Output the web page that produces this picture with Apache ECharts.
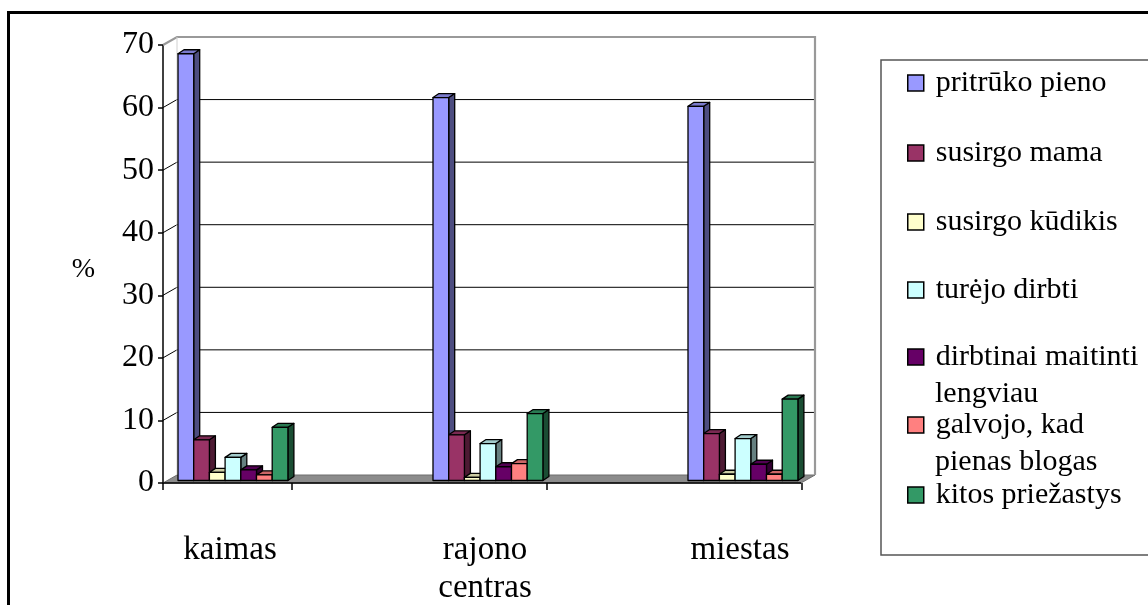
<!DOCTYPE html>
<html>
<head>
<meta charset="utf-8">
<script src="https://cdn.jsdelivr.net/npm/echarts@6/dist/echarts.min.js"></script>
<style>
  html, body { margin: 0; padding: 0; background: #fff; }
  #chart { width: 1148px; height: 605px; }
</style>
</head>
<body>
<div id="chart"></div>
<script>
// Categories and per-reason percentages
const categories = ['kaimas', 'rajono\ncentras', 'miestas'];
const yTicks = [0, 10, 20, 30, 40, 50, 60, 70];

const seriesNames = [
  'pritrūko pieno',
  'susirgo mama',
  'susirgo kūdikis',
  'turėjo dirbti',
  'dirbtinai maitinti\nlengviau',
  'galvojo, kad\npienas blogas',
  'kitos priežastys'
];

const pritrukoPieno = [68.2, 61.2, 59.8];
const susirgoMama = [6.5, 7.3, 7.5];
const susirgoKudikis = [1.3, 0.5, 1.0];
const turejoDirbti = [3.7, 5.9, 6.7];
const dirbtinaiMaitinti = [1.7, 2.2, 2.6];
const galvojoPienas = [0.9, 2.7, 1.0];
const kitosPriezastys = [8.5, 10.7, 13.0];

const seriesValues = [
  pritrukoPieno, susirgoMama, susirgoKudikis, turejoDirbti,
  dirbtinaiMaitinti, galvojoPienas, kitosPriezastys
];

const seriesColors = ['#9999FF', '#993366', '#FFFFCC', '#CCFFFF', '#660066', '#FF8080', '#339966'];

// Legend rows (vertical centre of each marker) and wrapped-line spacing
const legendRowY = [83, 153, 222, 290, 357, 425, 495];
const LEGEND_LEFT = 902;
const LEGEND_PAD = 5;
const LEGEND_TEXT_X = LEGEND_LEFT + LEGEND_PAD + 16 + 5 + 7;
const LEGEND_LINE = 37;

const SERIF = '"Liberation Serif", "Times New Roman", serif';

// 3D look of the plot area
const DEPTH_DX = 14, DEPTH_DY = 8;          // floor / wall depth
const BAR_DX = 6, BAR_DY = 4;               // column depth
const BAR_LIFT = 2.5;                       // columns stand slightly behind the front edge
const BAR_FRAC = 15.7 / 255;                // column width as a share of the category band
const CLUSTER_START = -52 / 255;            // cluster left edge relative to band centre
const TICK_SHIFT = 62 / 255;                // category tick relative to band centre
const FRONT_LEFT_INSET = 60.5;
const FRONT_RIGHT_INSET = 66.5;

function shade(hex, k) {
  const n = parseInt(hex.slice(1), 16);
  const r = Math.round(((n >> 16) & 255) * k);
  const g = Math.round(((n >> 8) & 255) * k);
  const b = Math.round((n & 255) * k);
  return 'rgb(' + r + ',' + g + ',' + b + ')';
}

function barRenderer(idx, color) {
  return function (params, api) {
    const ci = api.value(0);
    const v = api.value(1);
    const band = api.size([1, 0])[0];
    const base = api.coord([ci, 0]);
    const top = api.coord([ci, v]);
    const w = band * BAR_FRAC;
    const x0 = base[0] + band * CLUSTER_START + idx * w;
    const yb = base[1] - BAR_LIFT;
    const yt = top[1] - BAR_LIFT;
    const stroke = { stroke: '#000', lineWidth: 1.3, lineJoin: 'round' };
    return {
      type: 'group',
      children: [
        {
          type: 'polygon',
          shape: { points: [[x0 + w, yt], [x0 + w + BAR_DX, yt - BAR_DY], [x0 + w + BAR_DX, yb - BAR_DY], [x0 + w, yb]] },
          style: Object.assign({ fill: shade(color, 0.5) }, stroke)
        },
        {
          type: 'polygon',
          shape: { points: [[x0, yt], [x0 + BAR_DX, yt - BAR_DY], [x0 + w + BAR_DX, yt - BAR_DY], [x0 + w, yt]] },
          style: Object.assign({ fill: shade(color, 0.8) }, stroke)
        },
        {
          type: 'rect',
          shape: { x: x0, y: yt, width: w, height: yb - yt },
          style: Object.assign({ fill: color }, stroke)
        }
      ]
    };
  };
}

// Walls, floor, gridlines and category ticks
function frameRenderer(params, api) {
  const cs = params.coordSys;
  const band = api.size([1, 0])[0];
  const xL = cs.x + FRONT_LEFT_INSET;
  const xR = cs.x + cs.width - FRONT_RIGHT_INSET;
  const y0 = api.coord([0, yTicks[0]])[1];
  const yTop = api.coord([0, yTicks[yTicks.length - 1]])[1];
  const children = [];

  // floor
  children.push({
    type: 'polygon',
    shape: { points: [[xL, y0], [xR, y0], [xR + DEPTH_DX, y0 - DEPTH_DY], [xL + DEPTH_DX, y0 - DEPTH_DY]] },
    style: { fill: '#8c8c8c', stroke: '#6e6e6e', lineWidth: 1 }
  });

  // inner gridlines on the back and side walls
  for (let i = 1; i < yTicks.length - 1; i++) {
    const y = api.coord([0, yTicks[i]])[1];
    children.push({
      type: 'polyline',
      shape: { points: [[xL, y], [xL + DEPTH_DX, y - DEPTH_DY], [xR + DEPTH_DX, y - DEPTH_DY]] },
      style: { fill: null, stroke: '#000', lineWidth: 1 }
    });
  }

  // wall outline (grey)
  children.push({
    type: 'polyline',
    shape: { points: [[xL, yTop], [xL + DEPTH_DX, yTop - DEPTH_DY], [xR + DEPTH_DX, yTop - DEPTH_DY], [xR + DEPTH_DX, y0 - DEPTH_DY]] },
    style: { fill: null, stroke: '#999', lineWidth: 2.2 }
  });
  children.push({
    type: 'line',
    shape: { x1: xL + DEPTH_DX, y1: yTop - DEPTH_DY, x2: xL + DEPTH_DX, y2: y0 - DEPTH_DY },
    style: { stroke: '#d0d0d0', lineWidth: 1 }
  });

  // front edge of the floor
  children.push({
    type: 'line',
    shape: { x1: xL, y1: y0, x2: xR, y2: y0 },
    style: { stroke: '#000', lineWidth: 1.5 }
  });
  children.push({
    type: 'line',
    shape: { x1: xL, y1: y0, x2: xL, y2: y0 + 7 },
    style: { stroke: '#000', lineWidth: 1.5 }
  });
  for (let i = 0; i < categories.length; i++) {
    const x = api.coord([i, 0])[0] + band * TICK_SHIFT;
    children.push({
      type: 'line',
      shape: { x1: x, y1: y0, x2: x, y2: y0 + 7 },
      style: { stroke: '#000', lineWidth: 1.5 }
    });
  }
  return { type: 'group', children: children };
}

const series = [{
  type: 'custom',
  name: '__frame',
  silent: true,
  z: 1,
  renderItem: frameRenderer,
  data: [[0, 0]]
}];
seriesNames.forEach(function (name, i) {
  series.push({
    type: 'custom',
    name: name,
    z: 2,
    itemStyle: { color: seriesColors[i] },
    renderItem: barRenderer(i, seriesColors[i]),
    data: seriesValues[i].map(function (v, c) { return [c, v]; })
  });
});

// one legend block per entry so each row sits on its own line;
// the marker lines up with the first line of a wrapped name
const legends = seriesNames.map(function (name, i) {
  return {
    data: [name],
    left: LEGEND_LEFT,
    top: legendRowY[i] - 20,
    padding: LEGEND_PAD,
    selectedMode: false,
    icon: 'rect',
    itemWidth: 16,
    itemHeight: 16,
    itemStyle: { borderColor: '#000', borderWidth: 1.5 },
    formatter: function (n) { return n.split('\n')[0]; },
    textStyle: {
      fontFamily: SERIF,
      fontSize: 30,
      color: '#000',
      padding: [0, 0, 0, 7]
    }
  };
});

// wrapped continuation lines of legend names
const legendWraps = [];
seriesNames.forEach(function (name, i) {
  const parts = name.split('\n');
  for (let k = 1; k < parts.length; k++) {
    legendWraps.push({
      type: 'text',
      silent: true,
      style: {
        text: parts[k],
        x: LEGEND_TEXT_X,
        y: legendRowY[i] + k * LEGEND_LINE,
        verticalAlign: 'middle',
        font: '30px ' + SERIF,
        fill: '#000'
      }
    });
  }
});

const chart = echarts.init(document.getElementById('chart'), null, { renderer: 'canvas' });
chart.setOption({
  backgroundColor: '#fff',
  animation: false,
  color: seriesColors,
  grid: { left: 102.5, right: 280.5, top: 45, bottom: 122, containLabel: false, outerBoundsMode: 'none' },
  xAxis: {
    type: 'category',
    data: categories,
    axisLine: { show: false },
    axisTick: { show: false },
    axisLabel: {
      margin: 48,
      fontFamily: SERIF,
      fontSize: 33,
      lineHeight: 38,
      color: '#000'
    }
  },
  yAxis: {
    type: 'value',
    min: 0,
    max: 70,
    interval: 10,
    offset: -FRONT_LEFT_INSET,
    name: '%',
    nameLocation: 'middle',
    nameRotate: 0,
    nameGap: 68,
    nameTextStyle: { fontFamily: SERIF, fontSize: 28, color: '#000', verticalAlign: 'top', lineHeight: 12 },
    axisLine: { show: true, lineStyle: { color: '#000', width: 1.5 } },
    axisTick: { show: true, length: 5, lineStyle: { color: '#000', width: 1.5 } },
    splitLine: { show: false },
    axisLabel: { margin: 9, fontFamily: SERIF, fontSize: 32, color: '#000' }
  },
  legend: legends,
  graphic: [
    {
      type: 'rect',
      shape: { x: 8.5, y: 12.5, width: 1400, height: 900 },
      style: { fill: null, stroke: '#000', lineWidth: 3 },
      silent: true
    },
    {
      type: 'rect',
      shape: { x: 881, y: 60, width: 400, height: 495 },
      style: { fill: null, stroke: '#555', lineWidth: 1.5 },
      silent: true
    }
  ].concat(legendWraps),
  series: series
});
</script>
</body>
</html>
